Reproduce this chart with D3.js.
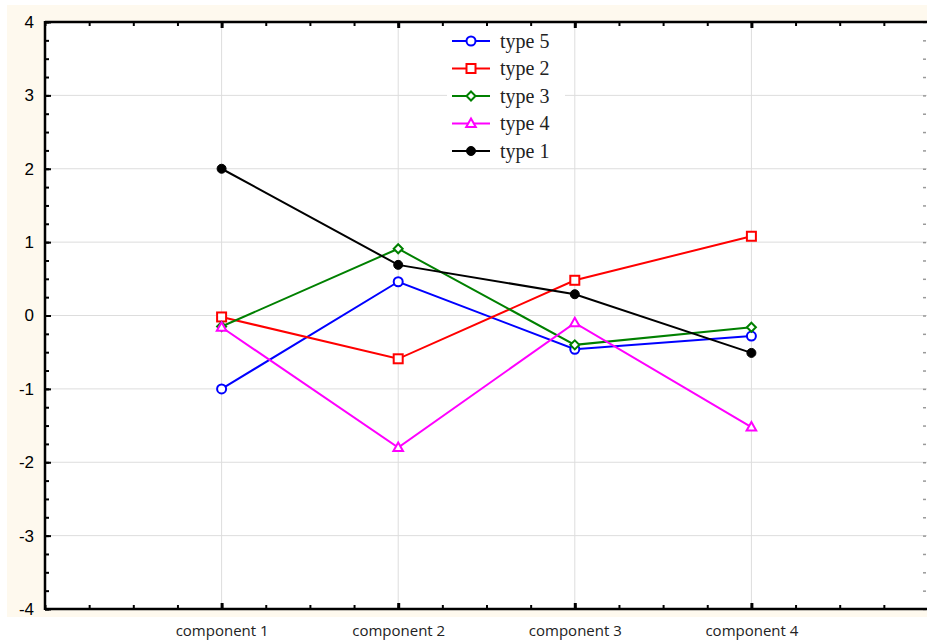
<!DOCTYPE html>
<html><head><meta charset="utf-8">
<script src="https://cdn.jsdelivr.net/npm/d3@7/dist/d3.min.js"></script>
<style>html,body{margin:0;padding:0;background:#fff;}svg{display:block;}</style>
</head><body>
<script>
const categories = ["component 1","component 2","component 3","component 4"];
const seriesNames = ["type 5","type 2","type 3","type 4","type 1"];
const type5 = [-1.00, 0.46, -0.46, -0.28];
const type2 = [-0.02, -0.59, 0.48, 1.08];
const type3 = [-0.15, 0.91, -0.40, -0.16];
const type4 = [-0.16, -1.80, -0.10, -1.52];
const type1 = [2.00, 0.69, 0.29, -0.51];
const yTicks = [-4,-3,-2,-1,0,1,2,3,4];

const series = [
  {name:seriesNames[0], values:type5, color:"#0000ff", marker:"circle"},
  {name:seriesNames[1], values:type2, color:"#ff0000", marker:"square"},
  {name:seriesNames[2], values:type3, color:"#008000", marker:"diamond"},
  {name:seriesNames[3], values:type4, color:"#ff00ff", marker:"triangle"},
  {name:seriesNames[4], values:type1, color:"#000000", marker:"dot"}
];

const W=927,H=643;
const L=45,R=928,T=22,B=609;
const svg=d3.select("body").append("svg").attr("width",W).attr("height",H);
svg.append("rect").attr("x",7).attr("y",5).attr("width",W-7).attr("height",612).attr("fill","#fef9ee");
svg.append("rect").attr("x",L).attr("y",T).attr("width",R-L).attr("height",B-T).attr("fill","#fff");

const x=d3.scaleLinear().domain([0,5]).range([L,R]);
const y=d3.scaleLinear().domain([-4,4]).range([B,T]);
const catPos=categories.map((c,i)=>i+1);

// gridlines
const g=svg.append("g");
g.selectAll(".hg").data(yTicks.filter(v=>v>-4&&v<4)).join("line")
 .attr("x1",L).attr("x2",R).attr("y1",d=>y(d)).attr("y2",d=>y(d))
 .attr("stroke","#dddddd").attr("stroke-width",1);
g.selectAll(".vg").data(catPos).join("line")
 .attr("x1",d=>x(d)).attr("x2",d=>x(d)).attr("y1",T).attr("y2",B)
 .attr("stroke","#dddddd").attr("stroke-width",1);

// legend box (white, hides grid)
const lg=svg.append("g");
lg.append("rect").attr("x",447).attr("y",24).attr("width",118).attr("height",141).attr("fill","#fff");

// minor ticks
const minorY=d3.range(-4,4.001,0.25);
const minorX=d3.range(0,5.001,0.25);
const ax=svg.append("g");
// left axis
const leftMinor=d3.axisLeft(y).tickValues(minorY).tickSize(-4).tickFormat("");
ax.append("g").attr("transform",`translate(${L},0)`).call(leftMinor).call(s=>s.select(".domain").remove())
 .selectAll("line").attr("stroke","#000").attr("stroke-width",2);
const leftMajor=d3.axisLeft(y).tickValues(yTicks).tickSize(-6).tickPadding(12).tickFormat(d=>String(d));
const lm=ax.append("g").attr("transform",`translate(${L},0)`).call(leftMajor);
lm.select(".domain").remove();
lm.selectAll("line").attr("stroke","#000").attr("stroke-width",2);
lm.selectAll("text").attr("font-family","Liberation Sans, Arial, sans-serif").attr("font-size",17).attr("fill","#000").attr("x",-11);
// right axis (gray ticks)
ax.append("g").attr("transform",`translate(${R-2},0)`).call(d3.axisRight(y).tickValues(minorY).tickSize(-3).tickFormat(""))
 .call(s=>s.select(".domain").remove()).selectAll("line").attr("stroke","#999").attr("stroke-width",1.5);
// top axis
ax.append("g").attr("transform",`translate(0,${T})`).call(d3.axisTop(x).tickValues(minorX).tickSize(-4).tickFormat(""))
 .call(s=>s.select(".domain").remove()).selectAll("line").attr("stroke","#000").attr("stroke-width",2);
ax.append("g").attr("transform",`translate(0,${T})`).call(d3.axisTop(x).tickValues(catPos).tickSize(-6).tickFormat(""))
 .call(s=>s.select(".domain").remove()).selectAll("line").attr("stroke","#000").attr("stroke-width",3);
// bottom axis
ax.append("g").attr("transform",`translate(0,${B})`).call(d3.axisBottom(x).tickValues(minorX).tickSize(-4).tickFormat(""))
 .call(s=>s.select(".domain").remove()).selectAll("line").attr("stroke","#000").attr("stroke-width",2);
const bm=ax.append("g").attr("transform",`translate(0,${B})`).call(d3.axisBottom(x).tickValues(catPos).tickSize(-6).tickPadding(14).tickFormat((d,i)=>categories[i]));
bm.select(".domain").remove();
bm.selectAll("line").attr("stroke","#000").attr("stroke-width",3);
bm.selectAll("text").attr("font-family","Open Sans, DejaVu Sans, sans-serif").attr("font-size",15).attr("fill","#222").attr("y",16);

// frame
svg.append("line").attr("x1",L).attr("x2",L).attr("y1",T-1).attr("y2",B+1).attr("stroke","#000").attr("stroke-width",2.5);
svg.append("line").attr("x1",L).attr("x2",W).attr("y1",T).attr("y2",T).attr("stroke","#000").attr("stroke-width",2.5);
svg.append("line").attr("x1",L).attr("x2",W).attr("y1",B).attr("y2",B).attr("stroke","#000").attr("stroke-width",2.5);

function drawMarker(sel,m,color){
  if(m==="circle") sel.append("circle").attr("r",4.5).attr("fill","#fff").attr("stroke",color).attr("stroke-width",2);
  else if(m==="dot") sel.append("circle").attr("r",4.5).attr("fill",color).attr("stroke",color).attr("stroke-width",1);
  else if(m==="square") sel.append("rect").attr("x",-4.5).attr("y",-4.5).attr("width",9).attr("height",9).attr("fill","#fff").attr("stroke",color).attr("stroke-width",2);
  else if(m==="diamond") sel.append("path").attr("d","M0,-4.5L4.5,0L0,4.5L-4.5,0Z").attr("fill","#fff").attr("stroke",color).attr("stroke-width",2);
  else if(m==="triangle") sel.append("path").attr("d","M0,-5L4.8,3.5L-4.8,3.5Z").attr("fill","#fff").attr("stroke",color).attr("stroke-width",2);
}

const line=d3.line().x((d,i)=>x(catPos[i])).y(d=>y(d));
const pg=svg.append("g");
series.forEach(s=>{
  pg.append("path").datum(s.values).attr("d",line).attr("fill","none").attr("stroke",s.color).attr("stroke-width",2);
});
series.forEach(s=>{
  s.values.forEach((v,i)=>{
    const mg=pg.append("g").attr("transform",`translate(${x(catPos[i])},${y(v)})`);
    drawMarker(mg,s.marker,s.color);
  });
});

// legend entries
series.forEach((s,i)=>{
  const yy=41+i*27.5;
  const e=lg.append("g").attr("transform",`translate(0,${yy})`);
  e.append("line").attr("x1",452).attr("x2",490).attr("y1",0).attr("y2",0).attr("stroke",s.color).attr("stroke-width",2);
  const mg=e.append("g").attr("transform","translate(471,0)");
  drawMarker(mg,s.marker,s.color);
  e.append("text").attr("x",500).attr("y",6.5).attr("font-family","Liberation Serif, Times New Roman, serif").attr("font-size",20).attr("fill","#222").text(s.name);
});
</script>
</body></html>
